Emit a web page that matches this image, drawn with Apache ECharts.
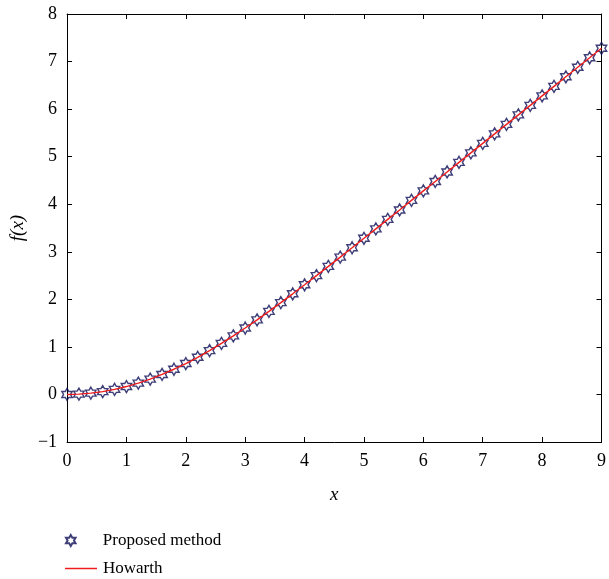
<!DOCTYPE html>
<html>
<head>
<meta charset="utf-8">
<script src="https://cdn.jsdelivr.net/npm/echarts@6/dist/echarts.min.js"></script>
<style>
  html, body { margin: 0; padding: 0; background: #fff; }
  #chart { width: 609px; height: 579px; }
</style>
</head>
<body>
<div id="chart"></div>
<script>
// x grid of the markers (step 0.2)
var xs = [0, 0.2, 0.4, 0.6, 0.8, 1.0, 1.2, 1.4, 1.6, 1.8, 2.0, 2.2, 2.4, 2.6, 2.8,
  3.0, 3.2, 3.4, 3.6, 3.8, 4.0, 4.2, 4.4, 4.6, 4.8, 5.0, 5.2, 5.4, 5.6, 5.8,
  6.0, 6.2, 6.4, 6.6, 6.8, 7.0, 7.2, 7.4, 7.6, 7.8, 8.0, 8.2, 8.4, 8.6, 8.8, 9.0];

var fProposed = [0, 0.007, 0.027, 0.060, 0.106, 0.166, 0.238, 0.323, 0.420, 0.530,
  0.650, 0.781, 0.922, 1.073, 1.231, 1.397, 1.569, 1.747, 1.930, 2.116,
  2.306, 2.498, 2.692, 2.888, 3.085, 3.283, 3.482, 3.681, 3.880, 4.080,
  4.280, 4.479, 4.679, 4.879, 5.079, 5.279, 5.479, 5.679, 5.879, 6.079,
  6.279, 6.479, 6.679, 6.879, 7.079, 7.279];

var fHowarth = [0, 0.007, 0.027, 0.060, 0.106, 0.166, 0.238, 0.323, 0.420, 0.530,
  0.650, 0.781, 0.922, 1.073, 1.231, 1.397, 1.569, 1.747, 1.930, 2.116,
  2.306, 2.498, 2.692, 2.888, 3.085, 3.283, 3.482, 3.681, 3.880, 4.080,
  4.280, 4.479, 4.679, 4.879, 5.079, 5.279, 5.479, 5.679, 5.879, 6.079,
  6.279, 6.479, 6.679, 6.879, 7.079, 7.279];

var xTicks = [0, 1, 2, 3, 4, 5, 6, 7, 8, 9];
var yTicks = [-1, 0, 1, 2, 3, 4, 5, 6, 7, 8];

var font = 'Liberation Serif, DejaVu Serif, serif';
var hexagram = 'path://M10,0 L12.887,5 L18.66,5 L15.774,10 L18.66,15 L12.887,15 L10,20 L7.113,15 L1.34,15 L4.226,10 L1.34,5 L7.113,5 Z';
var navy = '#0e0e58';
var red = '#f01c1c';

function pairs(a, b) {
  return a.map(function (v, i) { return [v, b[i]]; });
}
function lbl(v) {
  return String(v).replace('-', '\u2212');
}

var axisCommon = {
  type: 'value',
  interval: 1,
  splitLine: { show: false },
  axisLine: { show: true, onZero: false, lineStyle: { color: '#000', width: 1 } },
  axisTick: { show: true, inside: true, length: 5, lineStyle: { color: '#000' } }
};

var myChart = echarts.init(document.getElementById('chart'));
var option = {
  backgroundColor: '#fff',
  animation: false,
  grid: { left: 63, right: 4, top: 14, bottom: 137 },
  xAxis: [
    Object.assign({}, axisCommon, {
      position: 'bottom', min: xTicks[0], max: xTicks[xTicks.length - 1],
      name: 'x', nameLocation: 'middle', nameGap: 43,
      nameTextStyle: { fontFamily: font, fontStyle: 'italic', fontSize: 19, color: '#000' },
      axisLabel: { fontFamily: font, fontSize: 18, color: '#000', margin: 10, formatter: lbl }
    }),
    Object.assign({}, axisCommon, {
      position: 'top', min: xTicks[0], max: xTicks[xTicks.length - 1],
      axisLabel: { show: false }
    })
  ],
  yAxis: [
    Object.assign({}, axisCommon, {
      position: 'left', min: yTicks[0], max: yTicks[yTicks.length - 1],
      name: 'f(x)', nameLocation: 'middle', nameGap: 40,
      nameTextStyle: { fontFamily: font, fontStyle: 'italic', fontSize: 19, color: '#000' },
      axisLabel: { fontFamily: font, fontSize: 18, color: '#000', margin: 10, formatter: lbl }
    }),
    Object.assign({}, axisCommon, {
      position: 'right', min: yTicks[0], max: yTicks[yTicks.length - 1],
      axisLabel: { show: false }
    })
  ],
  legend: [
    {
      left: 60, top: 527,
      itemWidth: 32, itemHeight: 11,
      textStyle: { fontFamily: font, fontSize: 17, color: '#000', padding: [0, 0, 0, 11] },
      data: ['Proposed method']
    },
    {
      left: 60, top: 555,
      itemWidth: 32, itemHeight: 1.5,
      icon: 'rect',
      textStyle: { fontFamily: font, fontSize: 17, color: '#000', padding: [0, 0, 0, 1] },
      data: ['Howarth']
    }
  ],
  series: [
    {
      name: 'Proposed method',
      type: 'scatter',
      symbol: hexagram,
      symbolKeepAspect: true,
      symbolSize: 12,
      itemStyle: { color: 'rgba(255,255,255,0)', borderColor: navy, borderWidth: 1.4 },
      data: pairs(xs, fProposed),
      z: 2
    },
    {
      name: 'Howarth',
      type: 'line',
      symbol: 'none',
      lineStyle: { color: red, width: 1.4 },
      itemStyle: { color: red },
      data: pairs(xs, fHowarth),
      z: 3
    }
  ]
};
myChart.setOption(option);
</script>
</body>
</html>
